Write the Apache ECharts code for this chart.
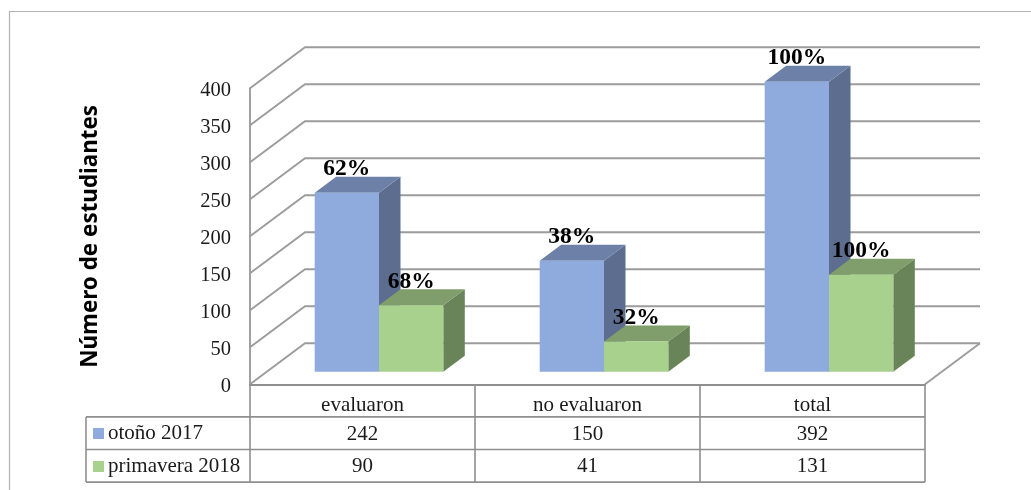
<!DOCTYPE html>
<html>
<head>
<meta charset="utf-8">
<title>Número de estudiantes</title>
<style>
  html, body { margin: 0; padding: 0; background: #fff; }
  #chart { width: 1031px; height: 490px; }
</style>
<script src="https://cdn.jsdelivr.net/npm/echarts@6/dist/echarts.min.js"></script>
</head>
<body>
<div id="chart"></div>
<script>
// Student counts per group and term
const categories = ['evaluaron', 'no evaluaron', 'total'];
const otono2017 = [242, 150, 392];
const primavera2018 = [90, 41, 131];
const otonoPct = ['62%', '38%', '100%'];
const primaveraPct = ['68%', '32%', '100%'];
const yTicks = [0, 50, 100, 150, 200, 250, 300, 350, 400];
const seriesNames = ['otoño 2017', 'primavera 2018'];

const SERIF = '"Liberation Serif", "Times New Roman", serif';
const GRID_COLOR = '#9c9c9c';
const TABLE_COLOR = '#8f8f8f';
const TEXT_COLOR = '#1a1a1a';

// Oblique projection used for the fake 3D box
const WALL_DX = 55, WALL_DY = 41;      // floor depth
const BAR_DX = 16.5, BAR_DY = 12.5;    // how far bars stand behind the front edge
const BAR_W = 64.3;                    // front face width
const DEPTH_DX = 21.5, DEPTH_DY = 16;  // bar depth
const ROW_TOP = 32.6, ROW_H = 32.6;    // data table rows below the axis
const KEY_LEFT = 164;                  // width of the legend column

const quad = (pts, fill) => ({
  type: 'polygon',
  shape: { points: pts },
  style: { fill: fill, stroke: null }
});

// Draws one term's bars: front, top and side faces plus the percentage label
function barRenderer(shift, front, top, side, labels) {
  return function (params, api) {
    const i = api.value(0);
    const base = api.coord([i, 0]);
    const head = api.coord([i, api.value(1)]);
    const x0 = base[0] + BAR_DX + shift * BAR_W;
    const x1 = x0 + BAR_W;
    const y0 = base[1] - BAR_DY;
    const y1 = head[1] - BAR_DY;
    return {
      type: 'group',
      children: [
        quad([[x1, y0], [x1 + DEPTH_DX, y0 - DEPTH_DY], [x1 + DEPTH_DX, y1 - DEPTH_DY], [x1, y1]], side),
        quad([[x0, y1], [x0 + DEPTH_DX, y1 - DEPTH_DY], [x1 + DEPTH_DX, y1 - DEPTH_DY], [x1, y1]], top),
        quad([[x0, y0], [x1, y0], [x1, y1], [x0, y1]], front),
        {
          type: 'text',
          style: {
            text: labels[params.dataIndex],
            x: (x0 + x1) / 2,
            y: y1 - DEPTH_DY + 4.5,
            align: 'center',
            verticalAlign: 'bottom',
            font: 'bold 23.5px ' + SERIF,
            fill: '#000'
          }
        }
      ]
    };
  };
}

// One wall line for each axis tick, running from the left edge to the back right
function wallRenderer(params, api) {
  const p = api.coord([0, api.value(0)]);
  const left = p[0] - api.size([1, 0])[0] / 2;
  const right = left + api.size([1, 0])[0] * categories.length;
  const line = pts => ({
    type: 'polyline',
    shape: { points: pts },
    style: { stroke: GRID_COLOR, lineWidth: 1.9, fill: null }
  });
  const children = [line([[left, p[1]], [left + WALL_DX, p[1] - WALL_DY], [right + WALL_DX, p[1] - WALL_DY]])];
  if (api.value(0) === 0) {
    children.push(line([[right, p[1]], [right + WALL_DX, p[1] - WALL_DY]]));
  }
  return { type: 'group', children: children };
}

// Data table: value cells and rules for one category column
function tableRenderer(params, api) {
  const i = params.dataIndex;
  const c = api.coord([i, 0]);
  const w = api.size([1, 0])[0];
  const y = c[1];
  const rule = (x1, y1, x2, y2) => ({
    type: 'line',
    shape: { x1: x1, y1: y1, x2: x2, y2: y2 },
    style: { stroke: TABLE_COLOR, lineWidth: 1.6 }
  });
  const cell = (text, row) => ({
    type: 'text',
    style: {
      text: String(text),
      x: c[0],
      y: y + ROW_TOP + ROW_H * (row + 0.5) + 1,
      align: 'center',
      verticalAlign: 'middle',
      font: '21px ' + SERIF,
      fill: TEXT_COLOR
    }
  });
  const l = c[0] - w / 2, r = c[0] + w / 2;
  const yA = y + ROW_TOP, yB = yA + ROW_H, yC = yB + ROW_H;
  const children = [
    rule(l, yA, r, yA), rule(l, yB, r, yB), rule(l, yC, r, yC),
    rule(r, y, r, yC),
    cell(otono2017[i], 0),
    cell(primavera2018[i], 1)
  ];
  if (i === 0) {
    const k = l - KEY_LEFT;
    children.push(
      rule(l, y, l, yC), rule(k, yA, l, yA), rule(k, yB, l, yB), rule(k, yC, l, yC), rule(k, yA, k, yC)
    );
  }
  return { type: 'group', children: children };
}

const chart = echarts.init(document.getElementById('chart'), null, { renderer: 'canvas' });
chart.setOption({
  animation: false,
  backgroundColor: '#fff',
  color: ['#8faadc', '#a9d18e'],
  grid: { left: 250, top: 88.3, width: 675, height: 296 },
  legend: {
    data: seriesNames,
    orient: 'vertical',
    left: 93,
    top: 423,
    itemWidth: 11,
    itemHeight: 11,
    itemGap: 12,
    icon: 'rect',
    selectedMode: false,
    padding: 0,
    textStyle: { fontFamily: SERIF, fontSize: 21, color: TEXT_COLOR, padding: [0, 0, 0, -1] }
  },
  xAxis: {
    type: 'category',
    data: categories,
    axisTick: { show: false },
    axisLine: { show: true, lineStyle: { color: '#8f8f8f', width: 2 } },
    axisLabel: { fontFamily: SERIF, fontSize: 21, color: TEXT_COLOR, margin: 11 },
    splitLine: { show: false }
  },
  yAxis: {
    type: 'value',
    min: 0,
    max: 400,
    interval: 50,
    name: 'Número de estudiantes',
    nameLocation: 'middle',
    nameGap: 148,
    nameRotate: 90,
    nameTextStyle: { fontFamily: '"Noto Sans", sans-serif', fontWeight: 'bold', fontSize: 22.4, color: '#000' },
    axisTick: { show: false },
    axisLine: { show: true, lineStyle: { color: '#9c9c9c', width: 1.9 } },
    axisLabel: {
      margin: 19,
      formatter: '{tick|{value}}',
      rich: { tick: { fontFamily: SERIF, fontSize: 20.5, color: TEXT_COLOR, padding: [5, 0, 0, 0] } }
    },
    splitLine: { show: false }
  },
  graphic: [{
    type: 'polyline',
    silent: true,
    shape: { points: [[9.5, 490], [9.5, 11.5], [1031, 11.5]] },
    style: { stroke: '#b2b2b2', lineWidth: 1.2, fill: null }
  }],
  series: [
    {
      type: 'custom',
      name: 'paredes',
      silent: true,
      data: yTicks.map(v => [v]),
      encode: { y: 0 },
      renderItem: wallRenderer
    },
    {
      type: 'custom',
      name: 'tabla',
      silent: true,
      data: categories.map((c, i) => [i]),
      encode: { x: 0 },
      renderItem: tableRenderer
    },
    {
      type: 'custom',
      name: seriesNames[0],
      data: otono2017.map((v, i) => [i, v]),
      encode: { x: 0, y: 1 },
      renderItem: barRenderer(-1, '#8faadc', '#6d81a8', '#5c6d8f', otonoPct)
    },
    {
      type: 'custom',
      name: seriesNames[1],
      data: primavera2018.map((v, i) => [i, v]),
      encode: { x: 0, y: 1 },
      renderItem: barRenderer(0, '#a9d18e', '#7f9e6b', '#6a8459', primaveraPct)
    }
  ]
});
</script>
</body>
</html>
